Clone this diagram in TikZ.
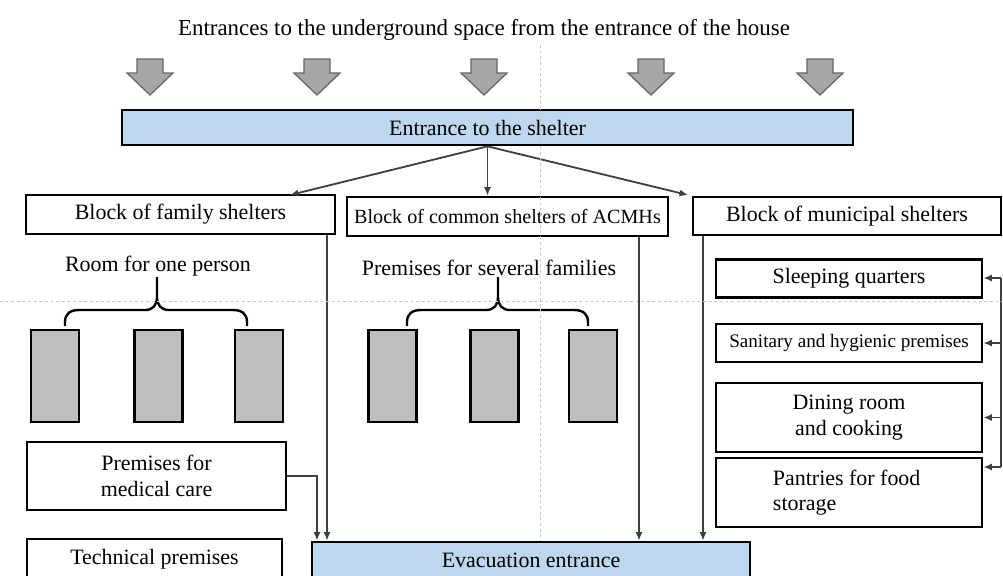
\documentclass[tikz,border=0pt]{standalone}
\usepackage{fontspec}
\setmainfont{Liberation Serif}
\usepackage{xcolor}
\usetikzlibrary{arrows.meta}

\definecolor{shelterblue}{HTML}{BDD7EE}
\definecolor{roomgrey}{HTML}{BFBFBF}
\definecolor{feedgrey}{HTML}{A6A6A6}
\definecolor{linkgrey}{HTML}{404040}
\definecolor{guidegrey}{HTML}{C8C8C8}

\newcommand{\ttlsize}{\fontsize{16.3}{19}\selectfont}
\newcommand{\lblsize}{\fontsize{15.6}{18}\selectfont}
\newcommand{\midsize}{\fontsize{14.3}{17}\selectfont}
\newcommand{\smlsize}{\fontsize{13.6}{16}\selectfont}

\tikzset{
  box/.style={draw, line width=1.9pt, fill=white, inner sep=0pt, align=center, font=\lblsize},
  bluebox/.style={box, fill=shelterblue},
  room/.style={draw, line width=1.9pt, fill=roomgrey, minimum width=1.2cm, minimum height=2.3cm, inner sep=0pt},
  lbl/.style={font=\lblsize, inner sep=0pt},
  link/.style={draw=linkgrey, line width=1.3pt, -{Latex[length=6pt,width=5pt]}},
  bar/.style={draw=linkgrey, line width=1.3pt},
  guide/.style={draw=guidegrey, line width=0.6pt, dash pattern=on 2pt off 2pt},
}

\begin{document}
\begin{tikzpicture}[x=0.025cm, y=-0.025cm]
  \path[use as bounding box, clip] (0,0) rectangle (1003,575);

  % title and the five ways in
  \node[lbl, font=\ttlsize] (title) at (484,30) {Entrances to the underground space from the entrance of the house};
  \foreach \ax in {150,317,484,651,820}
    \draw[fill=feedgrey, draw=linkgrey!80, line width=0.9pt, line join=miter]
      (\ax-13,59) -- (\ax+13,59) -- (\ax+13,73) -- (\ax+23,73) -- (\ax,95)
      -- (\ax-23,73) -- (\ax-13,73) -- cycle;

  \node[bluebox, minimum width=18.275cm, minimum height=0.875cm] (entr) at (487.5,127.5) {Entrance to the shelter};

  % the three blocks
  \node[box, minimum width=7.725cm, minimum height=0.975cm] (fam) at (180.5,214.5) {Block of family shelters};
  \node[box, minimum width=8.025cm, minimum height=0.975cm, font=\midsize] (com) at (507.5,216.5) {Block of common shelters of ACMHs};
  \node[box, minimum width=7.7cm, minimum height=0.95cm] (mun) at (847,216) {Block of municipal shelters};

  \coordinate (famin) at (290,195);
  \coordinate (munin) at (688,195);
  \draw[link] (entr.south) -- (famin);
  \draw[link] (entr.south) -- (entr.south |- com.north);
  \draw[link] (entr.south) -- (munin);

  % rooms of the family block
  \node[lbl] (onelbl) at (158,266) {Room for one person};
  \node[room] (r1) at (55,376) {};
  \node[room] (r2) at (158.5,376) {};
  \node[room] (r3) at (259,376) {};

  % rooms of the common block
  \node[lbl] (sevlbl) at (489,268) {Premises for several families};
  \node[room] (p1) at (392.5,376) {};
  \node[room] (p2) at (494.5,376) {};
  \node[room] (p3) at (593,376) {};

  % braces
  \foreach \bl/\bm/\br in {65/157/247, 407/498/588}
    \draw[line width=1.7pt]
      (\bl,326) -- (\bl,322) .. controls (\bl,314) and (\bl+5,310) .. (\bl+14,310)
      -- (\bm-12,310) .. controls (\bm-4,310) and (\bm,305) .. (\bm,297) -- (\bm,277)
      (\bm,297) .. controls (\bm,305) and (\bm+4,310) .. (\bm+12,310)
      -- (\br-14,310) .. controls (\br-5,310) and (\br,314) .. (\br,322) -- (\br,326);

  % premises of the municipal block
  \node[box, minimum width=6.65cm, minimum height=0.95cm] (sq) at (849,278.5) {Sleeping quarters};
  \node[box, minimum width=6.65cm, minimum height=0.95cm, font=\smlsize] (sh) at (849,343) {Sanitary and hygienic premises};
  \node[box, minimum width=6.65cm, minimum height=1.725cm] (dr) at (849,417.5) {Dining room\\and cooking};
  \node[box, minimum width=6.65cm, minimum height=1.725cm, text width=3.8cm, align=flush left] (pf) at (849,492.5) {Pantries for food\\storage};

  \coordinate (railtop) at (1001,278);
  \coordinate (railbot) at (1001,467);
  \draw[bar] (railtop) -- (railbot);
  \draw[link] (railtop) -- (railtop -| sq.east);
  \draw[link] (sh.east -| railtop) -- (sh.east);
  \draw[link] (dr.east -| railtop) -- (dr.east);
  \draw[link] (railbot) -- (railbot -| pf.east);

  % left column
  \node[box, minimum width=6.475cm, minimum height=1.7cm] (med) at (156.5,476) {Premises for\\medical care};
  \node[box, minimum width=6.375cm, minimum height=1.0cm] (tech) at (154.5,559) {Technical premises};
  \node[bluebox, minimum width=10.95cm, minimum height=0.9cm] (evac) at (531,560) {Evacuation entrance};

  % ways out
  \coordinate (medx) at (317,0);
  \coordinate (famx) at (327,0);
  \coordinate (comx) at (639,0);
  \coordinate (munx) at (703,0);
  \draw[link] (med.east) -| (medx |- evac.north);
  \draw[link] (famx |- fam.south) -- (famx |- evac.north);
  \draw[link] (comx |- com.south) -- (comx |- evac.north);
  \draw[link] (munx |- mun.south) -- (munx |- evac.north);

  % page guides
  \draw[guide] (540,45) -- (540,541);
  \draw[guide] (0,301) -- (1003,301);
\end{tikzpicture}
\end{document}
